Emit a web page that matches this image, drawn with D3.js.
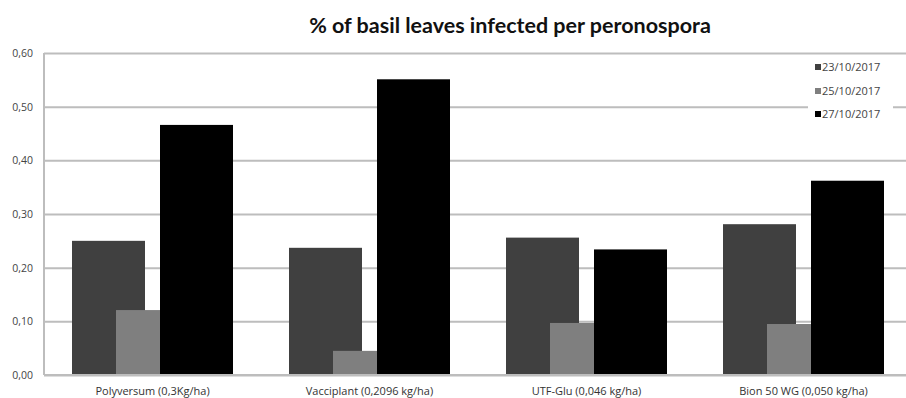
<!DOCTYPE html>
<html>
<head>
<meta charset="utf-8">
<script src="https://cdn.jsdelivr.net/npm/d3@7"></script>
<style>
  html, body { margin: 0; padding: 0; background: #fff; }
  svg { display: block; }
</style>
</head>
<body>
<svg id="chart" width="906" height="398"></svg>
<script>
// Treatments on the x axis
const categories = [
  "Polyversum (0,3Kg/ha)",
  "Vacciplant (0,2096 kg/ha)",
  "UTF-Glu (0,046 kg/ha)",
  "Bion 50 WG (0,050 kg/ha)"
];
// Survey dates (series)
const seriesNames = ["23/10/2017", "25/10/2017", "27/10/2017"];
// Share of infected leaves per date, one value per treatment
const values23 = [0.250, 0.237, 0.256, 0.281];
const values25 = [0.121, 0.045, 0.097, 0.095];
const values27 = [0.466, 0.551, 0.234, 0.362];
const yTicks = [0, 0.1, 0.2, 0.3, 0.4, 0.5, 0.6];
const seriesColors = ["#404040", "#7f7f7f", "#000000"];

const allValues = [values23, values25, values27];

const svg = d3.select("#chart");
const margin = { left: 44, right: -6, top: 53, bottom: 23 };
const W = 906, H = 398;
const plotW = W - margin.left - margin.right;
const plotH = H - margin.top - margin.bottom;

const x0 = d3.scaleBand().domain(categories).range([0, plotW]).padding(0);
const y = d3.scaleLinear().domain([0, 0.6]).range([plotH, 0]);

// Bars within a cluster overlap: each bar 73px wide, shifted 44px apart
const barW = 73;
const xs = d3.scalePoint().domain(seriesNames).range([0, 88]);
const clusterW = 88 + barW;

const g = svg.append("g").attr("transform", `translate(${margin.left},${margin.top})`);

// Title
svg.append("text")
  .attr("x", 510).attr("y", 33)
  .attr("text-anchor", "middle")
  .attr("font-family", "Lato, 'Open Sans', sans-serif")
  .attr("font-weight", "bold")
  .attr("font-size", 21.5)
  .attr("fill", "#111")
  .text("% of basil leaves infected per peronospora");

// Horizontal gridlines + y labels
const yAxis = d3.axisLeft(y)
  .tickValues(yTicks)
  .tickSize(-plotW)
  .tickPadding(11)
  .tickFormat(d => d3.format(".2f")(d).replace(".", ","));

const ya = g.append("g").call(yAxis);
ya.select(".domain").remove();
ya.selectAll(".tick line").attr("stroke", "#bdbdbd").attr("stroke-width", 2);
ya.selectAll(".tick text")
  .attr("font-family", "'Open Sans', sans-serif")
  .attr("font-size", 10.5)
  .attr("fill", "#444");

// Left axis line
g.append("line")
  .attr("x1", 0).attr("x2", 0).attr("y1", 0).attr("y2", plotH)
  .attr("stroke", "#bdbdbd").attr("stroke-width", 2);

// Bars (drawn in series order so later dates sit on top)
seriesNames.forEach((s, si) => {
  g.append("g").selectAll("rect")
    .data(categories.map((c, ci) => ({ c, v: allValues[si][ci] })))
    .join("rect")
    .attr("x", d => x0(d.c) + x0.bandwidth() / 2 - clusterW / 2 + xs(s))
    .attr("width", barW)
    .attr("y", d => y(d.v))
    .attr("height", d => plotH - y(d.v))
    .attr("fill", seriesColors[si]);
});

// Baseline
g.append("line")
  .attr("x1", 0).attr("x2", plotW).attr("y1", plotH).attr("y2", plotH)
  .attr("stroke", "#bdbdbd").attr("stroke-width", 2);

// Category labels
const xAxis = d3.axisBottom(x0).tickSize(0).tickPadding(12);
const xa = g.append("g").attr("transform", `translate(0,${plotH})`).call(xAxis);
xa.select(".domain").remove();
xa.selectAll(".tick text")
  .attr("font-family", "'Open Sans', sans-serif")
  .attr("font-size", 11)
  .attr("fill", "#333");

// Legend
const legend = svg.append("g");
legend.append("rect")
  .attr("x", 808).attr("y", 58).attr("width", 85).attr("height", 64)
  .attr("fill", "#fff");
const rowsY = [67, 91, 114];
seriesNames.forEach((s, i) => {
  legend.append("rect")
    .attr("x", 815).attr("y", rowsY[i] - 3).attr("width", 6).attr("height", 6)
    .attr("fill", seriesColors[i]);
  legend.append("text")
    .attr("x", 822).attr("y", rowsY[i])
    .attr("dy", "0.35em")
    .attr("font-family", "'Open Sans', sans-serif")
    .attr("font-size", 11)
    .attr("fill", "#444")
    .text(s);
});
</script>
</body>
</html>
